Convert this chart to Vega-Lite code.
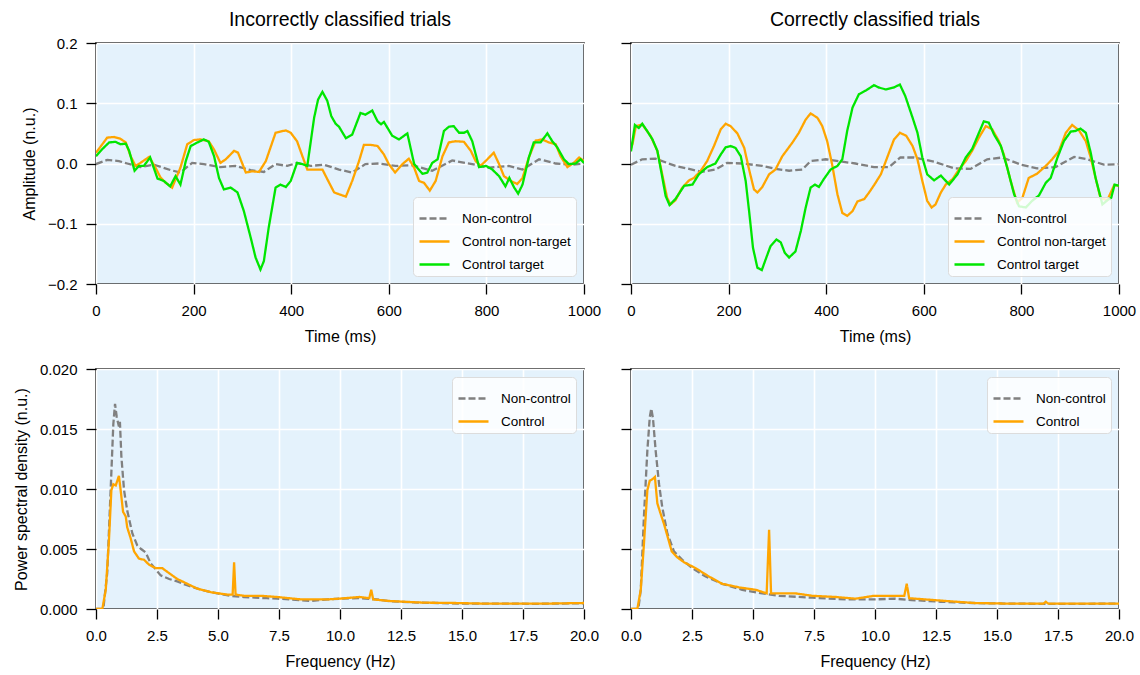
{
  "$schema": "https://vega.github.io/schema/vega-lite/v6.json",
  "padding": {"left": 12, "top": 8, "right": 10, "bottom": 5},
  "background": "white",
  "datasets": {
    "tl": [
      {"s":"Non-control","x":0,"y":-0.001},{"s":"Non-control","x":23,"y":0.006},{"s":"Non-control","x":47,"y":0.004},{"s":"Non-control","x":64,"y":0},{"s":"Non-control","x":91,"y":-0.006},{"s":"Non-control","x":119,"y":-0.002},{"s":"Non-control","x":153,"y":-0.011},{"s":"Non-control","x":173,"y":-0.015},{"s":"Non-control","x":197,"y":0.001},{"s":"Non-control","x":221,"y":-0.001},{"s":"Non-control","x":255,"y":-0.006},{"s":"Non-control","x":286,"y":-0.004},{"s":"Non-control","x":317,"y":-0.011},{"s":"Non-control","x":344,"y":-0.014},{"s":"Non-control","x":368,"y":-0.001},{"s":"Non-control","x":392,"y":-0.004},{"s":"Non-control","x":412,"y":0.001},{"s":"Non-control","x":440,"y":-0.004},{"s":"Non-control","x":467,"y":-0.002},{"s":"Non-control","x":498,"y":-0.010},{"s":"Non-control","x":525,"y":-0.015},{"s":"Non-control","x":552,"y":-0.001},{"s":"Non-control","x":580,"y":0},{"s":"Non-control","x":614,"y":-0.004},{"s":"Non-control","x":648,"y":-0.003},{"s":"Non-control","x":689,"y":-0.012},{"s":"Non-control","x":730,"y":0.005},{"s":"Non-control","x":771,"y":-0.001},{"s":"Non-control","x":805,"y":-0.007},{"s":"Non-control","x":846,"y":-0.004},{"s":"Non-control","x":874,"y":-0.010},{"s":"Non-control","x":908,"y":0.007},{"s":"Non-control","x":942,"y":0},{"s":"Non-control","x":976,"y":-0.002},{"s":"Non-control","x":1000,"y":0},
      {"s":"Control non-target","x":0,"y":0.018},{"s":"Control non-target","x":3,"y":0.021},{"s":"Control non-target","x":23,"y":0.043},{"s":"Control non-target","x":37,"y":0.044},{"s":"Control non-target","x":50,"y":0.041},{"s":"Control non-target","x":61,"y":0.035},{"s":"Control non-target","x":71,"y":0.012},{"s":"Control non-target","x":81,"y":-0.004},{"s":"Control non-target","x":91,"y":0.001},{"s":"Control non-target","x":109,"y":0.011},{"s":"Control non-target","x":122,"y":-0.007},{"s":"Control non-target","x":132,"y":-0.023},{"s":"Control non-target","x":143,"y":-0.032},{"s":"Control non-target","x":156,"y":-0.040},{"s":"Control non-target","x":173,"y":-0.007},{"s":"Control non-target","x":187,"y":0.032},{"s":"Control non-target","x":201,"y":0.039},{"s":"Control non-target","x":214,"y":0.040},{"s":"Control non-target","x":231,"y":0.037},{"s":"Control non-target","x":242,"y":0.023},{"s":"Control non-target","x":255,"y":0.001},{"s":"Control non-target","x":266,"y":0.007},{"s":"Control non-target","x":283,"y":0.021},{"s":"Control non-target","x":291,"y":0.018},{"s":"Control non-target","x":307,"y":-0.015},{"s":"Control non-target","x":320,"y":-0.013},{"s":"Control non-target","x":334,"y":-0.014},{"s":"Control non-target","x":348,"y":0.004},{"s":"Control non-target","x":368,"y":0.051},{"s":"Control non-target","x":389,"y":0.055},{"s":"Control non-target","x":399,"y":0.051},{"s":"Control non-target","x":412,"y":0.037},{"s":"Control non-target","x":423,"y":0.012},{"s":"Control non-target","x":433,"y":-0.010},{"s":"Control non-target","x":447,"y":-0.010},{"s":"Control non-target","x":464,"y":-0.010},{"s":"Control non-target","x":474,"y":-0.026},{"s":"Control non-target","x":488,"y":-0.048},{"s":"Control non-target","x":498,"y":-0.051},{"s":"Control non-target","x":512,"y":-0.055},{"s":"Control non-target","x":525,"y":-0.029},{"s":"Control non-target","x":539,"y":0.004},{"s":"Control non-target","x":549,"y":0.031},{"s":"Control non-target","x":563,"y":0.031},{"s":"Control non-target","x":577,"y":0.029},{"s":"Control non-target","x":590,"y":0.015},{"s":"Control non-target","x":600,"y":-0.001},{"s":"Control non-target","x":613,"y":-0.015},{"s":"Control non-target","x":628,"y":-0.001},{"s":"Control non-target","x":641,"y":0.008},{"s":"Control non-target","x":652,"y":-0.007},{"s":"Control non-target","x":662,"y":-0.029},{"s":"Control non-target","x":672,"y":-0.032},{"s":"Control non-target","x":684,"y":-0.045},{"s":"Control non-target","x":696,"y":-0.029},{"s":"Control non-target","x":710,"y":0.012},{"s":"Control non-target","x":723,"y":0.035},{"s":"Control non-target","x":737,"y":0.037},{"s":"Control non-target","x":754,"y":0.036},{"s":"Control non-target","x":768,"y":0.021},{"s":"Control non-target","x":778,"y":0.004},{"s":"Control non-target","x":788,"y":-0.004},{"s":"Control non-target","x":802,"y":0.007},{"s":"Control non-target","x":815,"y":0.018},{"s":"Control non-target","x":826,"y":-0.001},{"s":"Control non-target","x":836,"y":-0.021},{"s":"Control non-target","x":850,"y":-0.029},{"s":"Control non-target","x":863,"y":-0.034},{"s":"Control non-target","x":874,"y":-0.024},{"s":"Control non-target","x":887,"y":0.010},{"s":"Control non-target","x":901,"y":0.038},{"s":"Control non-target","x":914,"y":0.040},{"s":"Control non-target","x":928,"y":0.035},{"s":"Control non-target","x":942,"y":0.032},{"s":"Control non-target","x":952,"y":0.012},{"s":"Control non-target","x":966,"y":-0.006},{"s":"Control non-target","x":979,"y":0.001},{"s":"Control non-target","x":990,"y":0.010},{"s":"Control non-target","x":1000,"y":0.004},
      {"s":"Control target","x":0,"y":0.012},{"s":"Control target","x":3,"y":0.015},{"s":"Control target","x":13,"y":0.024},{"s":"Control target","x":27,"y":0.035},{"s":"Control target","x":40,"y":0.036},{"s":"Control target","x":50,"y":0.032},{"s":"Control target","x":61,"y":0.033},{"s":"Control target","x":68,"y":0.021},{"s":"Control target","x":79,"y":-0.012},{"s":"Control target","x":88,"y":-0.004},{"s":"Control target","x":98,"y":-0.004},{"s":"Control target","x":111,"y":0.010},{"s":"Control target","x":126,"y":-0.025},{"s":"Control target","x":139,"y":-0.029},{"s":"Control target","x":152,"y":-0.038},{"s":"Control target","x":163,"y":-0.021},{"s":"Control target","x":173,"y":-0.035},{"s":"Control target","x":184,"y":0.004},{"s":"Control target","x":194,"y":0.029},{"s":"Control target","x":208,"y":0.035},{"s":"Control target","x":221,"y":0.040},{"s":"Control target","x":231,"y":0.036},{"s":"Control target","x":242,"y":0.012},{"s":"Control target","x":252,"y":-0.024},{"s":"Control target","x":262,"y":-0.043},{"s":"Control target","x":276,"y":-0.040},{"s":"Control target","x":290,"y":-0.048},{"s":"Control target","x":303,"y":-0.079},{"s":"Control target","x":317,"y":-0.123},{"s":"Control target","x":327,"y":-0.156},{"s":"Control target","x":337,"y":-0.176},{"s":"Control target","x":344,"y":-0.162},{"s":"Control target","x":354,"y":-0.106},{"s":"Control target","x":368,"y":-0.040},{"s":"Control target","x":378,"y":-0.035},{"s":"Control target","x":389,"y":-0.039},{"s":"Control target","x":399,"y":-0.029},{"s":"Control target","x":412,"y":0.001},{"s":"Control target","x":423,"y":-0.001},{"s":"Control target","x":433,"y":-0.004},{"s":"Control target","x":447,"y":0.076},{"s":"Control target","x":455,"y":0.106},{"s":"Control target","x":464,"y":0.119},{"s":"Control target","x":474,"y":0.104},{"s":"Control target","x":482,"y":0.079},{"s":"Control target","x":491,"y":0.066},{"s":"Control target","x":498,"y":0.061},{"s":"Control target","x":512,"y":0.042},{"s":"Control target","x":525,"y":0.048},{"s":"Control target","x":542,"y":0.084},{"s":"Control target","x":552,"y":0.081},{"s":"Control target","x":566,"y":0.088},{"s":"Control target","x":577,"y":0.070},{"s":"Control target","x":584,"y":0.065},{"s":"Control target","x":590,"y":0.069},{"s":"Control target","x":607,"y":0.046},{"s":"Control target","x":621,"y":0.040},{"s":"Control target","x":638,"y":0.050},{"s":"Control target","x":652,"y":-0.001},{"s":"Control target","x":669,"y":-0.017},{"s":"Control target","x":679,"y":-0.015},{"s":"Control target","x":689,"y":0.001},{"s":"Control target","x":700,"y":0.007},{"s":"Control target","x":713,"y":0.054},{"s":"Control target","x":723,"y":0.061},{"s":"Control target","x":733,"y":0.062},{"s":"Control target","x":744,"y":0.051},{"s":"Control target","x":754,"y":0.051},{"s":"Control target","x":761,"y":0.054},{"s":"Control target","x":771,"y":0.037},{"s":"Control target","x":785,"y":-0.006},{"s":"Control target","x":799,"y":-0.004},{"s":"Control target","x":812,"y":-0.010},{"s":"Control target","x":826,"y":-0.021},{"s":"Control target","x":839,"y":-0.038},{"s":"Control target","x":847,"y":-0.024},{"s":"Control target","x":857,"y":-0.040},{"s":"Control target","x":865,"y":-0.050},{"s":"Control target","x":874,"y":-0.035},{"s":"Control target","x":887,"y":0.010},{"s":"Control target","x":897,"y":0.035},{"s":"Control target","x":911,"y":0.035},{"s":"Control target","x":925,"y":0.050},{"s":"Control target","x":935,"y":0.037},{"s":"Control target","x":945,"y":0.027},{"s":"Control target","x":959,"y":0.007},{"s":"Control target","x":969,"y":-0.001},{"s":"Control target","x":983,"y":0.000},{"s":"Control target","x":993,"y":0.007},{"s":"Control target","x":1000,"y":0.001}
    ],
    "tr": [
      {"s":"Non-control","x":0,"y":-0.002},{"s":"Non-control","x":23,"y":0.007},{"s":"Non-control","x":50,"y":0.008},{"s":"Non-control","x":91,"y":-0.004},{"s":"Non-control","x":119,"y":-0.009},{"s":"Non-control","x":146,"y":-0.014},{"s":"Non-control","x":173,"y":-0.010},{"s":"Non-control","x":197,"y":0.001},{"s":"Non-control","x":228,"y":0},{"s":"Non-control","x":269,"y":-0.004},{"s":"Non-control","x":296,"y":-0.009},{"s":"Non-control","x":324,"y":-0.012},{"s":"Non-control","x":351,"y":-0.010},{"s":"Non-control","x":368,"y":0.004},{"s":"Non-control","x":399,"y":0.007},{"s":"Non-control","x":433,"y":0.003},{"s":"Non-control","x":460,"y":0},{"s":"Non-control","x":498,"y":-0.006},{"s":"Non-control","x":529,"y":-0.006},{"s":"Non-control","x":552,"y":0.010},{"s":"Non-control","x":580,"y":0.010},{"s":"Non-control","x":621,"y":0.003},{"s":"Non-control","x":662,"y":-0.008},{"s":"Non-control","x":696,"y":-0.009},{"s":"Non-control","x":730,"y":0.007},{"s":"Non-control","x":761,"y":0.010},{"s":"Non-control","x":799,"y":-0.002},{"s":"Non-control","x":832,"y":-0.008},{"s":"Non-control","x":870,"y":-0.006},{"s":"Non-control","x":908,"y":0.011},{"s":"Non-control","x":935,"y":0.007},{"s":"Non-control","x":969,"y":-0.002},{"s":"Non-control","x":1000,"y":-0.001},
      {"s":"Control non-target","x":0,"y":0.025},{"s":"Control non-target","x":3,"y":0.032},{"s":"Control non-target","x":10,"y":0.062},{"s":"Control non-target","x":23,"y":0.065},{"s":"Control non-target","x":40,"y":0.046},{"s":"Control non-target","x":54,"y":0.021},{"s":"Control non-target","x":64,"y":-0.018},{"s":"Control non-target","x":74,"y":-0.057},{"s":"Control non-target","x":81,"y":-0.068},{"s":"Control non-target","x":91,"y":-0.061},{"s":"Control non-target","x":105,"y":-0.040},{"s":"Control non-target","x":119,"y":-0.028},{"s":"Control non-target","x":129,"y":-0.024},{"s":"Control non-target","x":143,"y":-0.012},{"s":"Control non-target","x":156,"y":0.004},{"s":"Control non-target","x":170,"y":0.029},{"s":"Control non-target","x":184,"y":0.057},{"s":"Control non-target","x":194,"y":0.066},{"s":"Control non-target","x":204,"y":0.062},{"s":"Control non-target","x":218,"y":0.050},{"s":"Control non-target","x":232,"y":0.026},{"s":"Control non-target","x":242,"y":-0.010},{"s":"Control non-target","x":252,"y":-0.043},{"s":"Control non-target","x":259,"y":-0.048},{"s":"Control non-target","x":269,"y":-0.039},{"s":"Control non-target","x":283,"y":-0.018},{"s":"Control non-target","x":296,"y":-0.010},{"s":"Control non-target","x":310,"y":0.012},{"s":"Control non-target","x":331,"y":0.035},{"s":"Control non-target","x":344,"y":0.051},{"s":"Control non-target","x":358,"y":0.073},{"s":"Control non-target","x":368,"y":0.083},{"s":"Control non-target","x":382,"y":0.076},{"s":"Control non-target","x":392,"y":0.062},{"s":"Control non-target","x":402,"y":0.037},{"s":"Control non-target","x":412,"y":-0.001},{"s":"Control non-target","x":423,"y":-0.051},{"s":"Control non-target","x":433,"y":-0.082},{"s":"Control non-target","x":443,"y":-0.087},{"s":"Control non-target","x":454,"y":-0.079},{"s":"Control non-target","x":464,"y":-0.063},{"s":"Control non-target","x":478,"y":-0.059},{"s":"Control non-target","x":488,"y":-0.048},{"s":"Control non-target","x":498,"y":-0.036},{"s":"Control non-target","x":512,"y":-0.018},{"s":"Control non-target","x":525,"y":0.010},{"s":"Control non-target","x":539,"y":0.040},{"s":"Control non-target","x":551,"y":0.051},{"s":"Control non-target","x":564,"y":0.046},{"s":"Control non-target","x":577,"y":0.029},{"s":"Control non-target","x":587,"y":0.007},{"s":"Control non-target","x":597,"y":-0.029},{"s":"Control non-target","x":607,"y":-0.062},{"s":"Control non-target","x":616,"y":-0.073},{"s":"Control non-target","x":624,"y":-0.068},{"s":"Control non-target","x":635,"y":-0.048},{"s":"Control non-target","x":645,"y":-0.035},{"s":"Control non-target","x":659,"y":-0.026},{"s":"Control non-target","x":672,"y":-0.010},{"s":"Control non-target","x":686,"y":0.004},{"s":"Control non-target","x":699,"y":0.021},{"s":"Control non-target","x":713,"y":0.043},{"s":"Control non-target","x":727,"y":0.062},{"s":"Control non-target","x":740,"y":0.057},{"s":"Control non-target","x":754,"y":0.037},{"s":"Control non-target","x":764,"y":0.015},{"s":"Control non-target","x":778,"y":-0.029},{"s":"Control non-target","x":791,"y":-0.065},{"s":"Control non-target","x":802,"y":-0.057},{"s":"Control non-target","x":815,"y":-0.024},{"s":"Control non-target","x":832,"y":-0.017},{"s":"Control non-target","x":850,"y":-0.004},{"s":"Control non-target","x":863,"y":0.007},{"s":"Control non-target","x":877,"y":0.021},{"s":"Control non-target","x":891,"y":0.051},{"s":"Control non-target","x":904,"y":0.064},{"s":"Control non-target","x":918,"y":0.055},{"s":"Control non-target","x":932,"y":0.037},{"s":"Control non-target","x":942,"y":0.010},{"s":"Control non-target","x":952,"y":-0.024},{"s":"Control non-target","x":962,"y":-0.057},{"s":"Control non-target","x":976,"y":-0.061},{"s":"Control non-target","x":990,"y":-0.036},{"s":"Control non-target","x":1000,"y":-0.037},
      {"s":"Control target","x":0,"y":0.020},{"s":"Control target","x":1,"y":0.026},{"s":"Control target","x":8,"y":0.064},{"s":"Control target","x":16,"y":0.059},{"s":"Control target","x":23,"y":0.066},{"s":"Control target","x":33,"y":0.054},{"s":"Control target","x":44,"y":0.040},{"s":"Control target","x":54,"y":0.021},{"s":"Control target","x":63,"y":-0.018},{"s":"Control target","x":71,"y":-0.054},{"s":"Control target","x":79,"y":-0.069},{"s":"Control target","x":91,"y":-0.059},{"s":"Control target","x":109,"y":-0.037},{"s":"Control target","x":126,"y":-0.035},{"s":"Control target","x":139,"y":-0.018},{"s":"Control target","x":156,"y":-0.006},{"s":"Control target","x":173,"y":0.000},{"s":"Control target","x":184,"y":0.015},{"s":"Control target","x":194,"y":0.027},{"s":"Control target","x":204,"y":0.029},{"s":"Control target","x":214,"y":0.026},{"s":"Control target","x":225,"y":0.012},{"s":"Control target","x":235,"y":-0.029},{"s":"Control target","x":242,"y":-0.079},{"s":"Control target","x":250,"y":-0.140},{"s":"Control target","x":259,"y":-0.173},{"s":"Control target","x":268,"y":-0.177},{"s":"Control target","x":276,"y":-0.159},{"s":"Control target","x":286,"y":-0.137},{"s":"Control target","x":298,"y":-0.126},{"s":"Control target","x":307,"y":-0.131},{"s":"Control target","x":315,"y":-0.148},{"s":"Control target","x":324,"y":-0.156},{"s":"Control target","x":337,"y":-0.146},{"s":"Control target","x":348,"y":-0.112},{"s":"Control target","x":358,"y":-0.073},{"s":"Control target","x":368,"y":-0.040},{"s":"Control target","x":377,"y":-0.035},{"s":"Control target","x":385,"y":-0.039},{"s":"Control target","x":395,"y":-0.026},{"s":"Control target","x":409,"y":-0.010},{"s":"Control target","x":423,"y":-0.004},{"s":"Control target","x":433,"y":0.007},{"s":"Control target","x":443,"y":0.054},{"s":"Control target","x":454,"y":0.093},{"s":"Control target","x":467,"y":0.115},{"s":"Control target","x":481,"y":0.121},{"s":"Control target","x":498,"y":0.130},{"s":"Control target","x":508,"y":0.126},{"s":"Control target","x":522,"y":0.123},{"s":"Control target","x":538,"y":0.126},{"s":"Control target","x":551,"y":0.131},{"s":"Control target","x":562,"y":0.112},{"s":"Control target","x":577,"y":0.076},{"s":"Control target","x":587,"y":0.051},{"s":"Control target","x":597,"y":0.010},{"s":"Control target","x":607,"y":-0.018},{"s":"Control target","x":621,"y":-0.028},{"s":"Control target","x":635,"y":-0.020},{"s":"Control target","x":652,"y":-0.035},{"s":"Control target","x":669,"y":-0.018},{"s":"Control target","x":686,"y":0.010},{"s":"Control target","x":699,"y":0.024},{"s":"Control target","x":713,"y":0.051},{"s":"Control target","x":723,"y":0.070},{"s":"Control target","x":733,"y":0.068},{"s":"Control target","x":744,"y":0.048},{"s":"Control target","x":758,"y":0.029},{"s":"Control target","x":771,"y":-0.007},{"s":"Control target","x":785,"y":-0.051},{"s":"Control target","x":795,"y":-0.071},{"s":"Control target","x":809,"y":-0.073},{"s":"Control target","x":822,"y":-0.062},{"s":"Control target","x":836,"y":-0.053},{"s":"Control target","x":850,"y":-0.032},{"s":"Control target","x":860,"y":-0.024},{"s":"Control target","x":874,"y":0.010},{"s":"Control target","x":887,"y":0.037},{"s":"Control target","x":901,"y":0.053},{"s":"Control target","x":911,"y":0.054},{"s":"Control target","x":921,"y":0.058},{"s":"Control target","x":932,"y":0.051},{"s":"Control target","x":942,"y":0.018},{"s":"Control target","x":952,"y":-0.024},{"s":"Control target","x":966,"y":-0.068},{"s":"Control target","x":976,"y":-0.061},{"s":"Control target","x":984,"y":-0.057},{"s":"Control target","x":991,"y":-0.035},{"s":"Control target","x":1000,"y":-0.037}
    ],
    "bl": [
      {"s":"Non-control","x":0,"y":0},{"s":"Non-control","x":0.3,"y":0},{"s":"Non-control","x":0.46,"y":0.003},{"s":"Non-control","x":0.6,"y":0.0099},{"s":"Non-control","x":0.71,"y":0.0154},{"s":"Non-control","x":0.78,"y":0.0171},{"s":"Non-control","x":0.85,"y":0.016},{"s":"Non-control","x":0.94,"y":0.0152},{"s":"Non-control","x":0.98,"y":0.0156},{"s":"Non-control","x":1.04,"y":0.0127},{"s":"Non-control","x":1.15,"y":0.0099},{"s":"Non-control","x":1.28,"y":0.0082},{"s":"Non-control","x":1.49,"y":0.0063},{"s":"Non-control","x":1.69,"y":0.0053},{"s":"Non-control","x":1.85,"y":0.005},{"s":"Non-control","x":2.04,"y":0.0047},{"s":"Non-control","x":2.24,"y":0.0038},{"s":"Non-control","x":2.45,"y":0.0033},{"s":"Non-control","x":2.65,"y":0.0028},{"s":"Non-control","x":3.0,"y":0.0025},{"s":"Non-control","x":3.33,"y":0.0023},{"s":"Non-control","x":3.7,"y":0.002},{"s":"Non-control","x":4.0,"y":0.0018},{"s":"Non-control","x":4.5,"y":0.0015},{"s":"Non-control","x":4.97,"y":0.0013},{"s":"Non-control","x":5.5,"y":0.0011},{"s":"Non-control","x":6.06,"y":0.001},{"s":"Non-control","x":6.5,"y":0.00095},{"s":"Non-control","x":7.0,"y":0.0009},{"s":"Non-control","x":7.43,"y":0.00086},{"s":"Non-control","x":8.0,"y":0.0008},{"s":"Non-control","x":8.8,"y":0.00067},{"s":"Non-control","x":9.5,"y":0.0008},{"s":"Non-control","x":10,"y":0.00086},{"s":"Non-control","x":10.8,"y":0.0009},{"s":"Non-control","x":11.5,"y":0.0008},{"s":"Non-control","x":12,"y":0.00065},{"s":"Non-control","x":13,"y":0.00055},{"s":"Non-control","x":14,"y":0.0005},{"s":"Non-control","x":15,"y":0.00045},{"s":"Non-control","x":16,"y":0.00044},{"s":"Non-control","x":17,"y":0.00045},{"s":"Non-control","x":18,"y":0.00043},{"s":"Non-control","x":19,"y":0.00045},{"s":"Non-control","x":20,"y":0.00048},
      {"s":"Control","x":0,"y":0},{"s":"Control","x":0.26,"y":0},{"s":"Control","x":0.4,"y":0.0016},{"s":"Control","x":0.53,"y":0.0057},{"s":"Control","x":0.63,"y":0.0099},{"s":"Control","x":0.71,"y":0.0104},{"s":"Control","x":0.81,"y":0.0103},{"s":"Control","x":0.94,"y":0.0111},{"s":"Control","x":1.01,"y":0.0099},{"s":"Control","x":1.11,"y":0.0081},{"s":"Control","x":1.22,"y":0.0077},{"s":"Control","x":1.28,"y":0.0068},{"s":"Control","x":1.42,"y":0.0059},{"s":"Control","x":1.56,"y":0.0048},{"s":"Control","x":1.76,"y":0.0042},{"s":"Control","x":1.97,"y":0.0041},{"s":"Control","x":2.17,"y":0.0037},{"s":"Control","x":2.45,"y":0.0034},{"s":"Control","x":2.72,"y":0.0034},{"s":"Control","x":2.92,"y":0.0031},{"s":"Control","x":3.33,"y":0.0025},{"s":"Control","x":3.74,"y":0.0021},{"s":"Control","x":4.15,"y":0.0017},{"s":"Control","x":4.7,"y":0.0014},{"s":"Control","x":5.38,"y":0.0012},{"s":"Control","x":5.6,"y":0.0012},{"s":"Control","x":5.66,"y":0.0039},{"s":"Control","x":5.72,"y":0.0012},{"s":"Control","x":6.06,"y":0.0011},{"s":"Control","x":6.75,"y":0.0011},{"s":"Control","x":7.43,"y":0.001},{"s":"Control","x":8.4,"y":0.0008},{"s":"Control","x":9.48,"y":0.0008},{"s":"Control","x":9.96,"y":0.00086},{"s":"Control","x":10.8,"y":0.001},{"s":"Control","x":11.2,"y":0.0009},{"s":"Control","x":11.28,"y":0.0016},{"s":"Control","x":11.36,"y":0.0008},{"s":"Control","x":12,"y":0.00067},{"s":"Control","x":13.4,"y":0.00053},{"s":"Control","x":14.7,"y":0.0005},{"s":"Control","x":16.1,"y":0.00044},{"s":"Control","x":17.5,"y":0.00045},{"s":"Control","x":18.5,"y":0.00045},{"s":"Control","x":20,"y":0.0005}
    ],
    "br": [
      {"s":"Non-control","x":0,"y":0},{"s":"Non-control","x":0.3,"y":0},{"s":"Non-control","x":0.4,"y":0.0016},{"s":"Non-control","x":0.53,"y":0.0077},{"s":"Non-control","x":0.67,"y":0.0132},{"s":"Non-control","x":0.77,"y":0.016},{"s":"Non-control","x":0.83,"y":0.0167},{"s":"Non-control","x":0.9,"y":0.0159},{"s":"Non-control","x":1.01,"y":0.0132},{"s":"Non-control","x":1.15,"y":0.0104},{"s":"Non-control","x":1.28,"y":0.0085},{"s":"Non-control","x":1.49,"y":0.0063},{"s":"Non-control","x":1.76,"y":0.0048},{"s":"Non-control","x":2.1,"y":0.0041},{"s":"Non-control","x":2.51,"y":0.0034},{"s":"Non-control","x":3.06,"y":0.0027},{"s":"Non-control","x":3.74,"y":0.0021},{"s":"Non-control","x":4.56,"y":0.0016},{"s":"Non-control","x":5.38,"y":0.0013},{"s":"Non-control","x":6.06,"y":0.0011},{"s":"Non-control","x":7.43,"y":0.00094},{"s":"Non-control","x":8.8,"y":0.0008},{"s":"Non-control","x":9.96,"y":0.0008},{"s":"Non-control","x":10.8,"y":0.00086},{"s":"Non-control","x":11.5,"y":0.00075},{"s":"Non-control","x":12.7,"y":0.0006},{"s":"Non-control","x":14,"y":0.0005},{"s":"Non-control","x":15.4,"y":0.00045},{"s":"Non-control","x":17,"y":0.00043},{"s":"Non-control","x":18.5,"y":0.00043},{"s":"Non-control","x":20,"y":0.00045},
      {"s":"Control","x":0,"y":0},{"s":"Control","x":0.26,"y":0},{"s":"Control","x":0.4,"y":0.0016},{"s":"Control","x":0.53,"y":0.0054},{"s":"Control","x":0.67,"y":0.0099},{"s":"Control","x":0.77,"y":0.0107},{"s":"Control","x":0.87,"y":0.0108},{"s":"Control","x":0.98,"y":0.011},{"s":"Control","x":1.08,"y":0.0088},{"s":"Control","x":1.22,"y":0.0079},{"s":"Control","x":1.35,"y":0.0071},{"s":"Control","x":1.49,"y":0.0061},{"s":"Control","x":1.67,"y":0.0048},{"s":"Control","x":1.9,"y":0.0043},{"s":"Control","x":2.17,"y":0.0039},{"s":"Control","x":2.65,"y":0.0034},{"s":"Control","x":3.2,"y":0.0027},{"s":"Control","x":3.74,"y":0.0021},{"s":"Control","x":4.43,"y":0.0018},{"s":"Control","x":5.11,"y":0.0016},{"s":"Control","x":5.56,"y":0.0013},{"s":"Control","x":5.66,"y":0.0066},{"s":"Control","x":5.74,"y":0.0013},{"s":"Control","x":6.06,"y":0.0013},{"s":"Control","x":6.75,"y":0.0013},{"s":"Control","x":7.43,"y":0.0011},{"s":"Control","x":8.4,"y":0.001},{"s":"Control","x":9.2,"y":0.00086},{"s":"Control","x":9.96,"y":0.0011},{"s":"Control","x":10.5,"y":0.0011},{"s":"Control","x":11.2,"y":0.0011},{"s":"Control","x":11.3,"y":0.0021},{"s":"Control","x":11.4,"y":0.0009},{"s":"Control","x":12.7,"y":0.0007},{"s":"Control","x":14.06,"y":0.0005},{"s":"Control","x":15.4,"y":0.00045},{"s":"Control","x":16.9,"y":0.00045},{"s":"Control","x":17.0,"y":0.0006},{"s":"Control","x":17.1,"y":0.00045},{"s":"Control","x":18.5,"y":0.00044},{"s":"Control","x":20,"y":0.00045}
    ]
  },
  "columns": 2,
  "bounds": "flush",
  "spacing": {"row": 85, "column": 47},
  "concat": [
    {
      "title": {"text": "Incorrectly classified trials", "offset": 6},
      "width": 488, "height": 241,
      "data": {"name": "tl"},
      "mark": {"type": "line", "strokeWidth": 2.3, "clip": true},
      "encoding": {
        "x": {"field": "x", "type": "quantitative", "scale": {"domain": [0, 1000], "nice": false},
              "axis": {"title": "Time (ms)", "values": [0, 200, 400, 600, 800, 1000], "format": "d"}},
        "y": {"field": "y", "type": "quantitative", "scale": {"domain": [-0.2, 0.2], "nice": false},
              "axis": {"title": "Amplitude (n.u.)", "values": [-0.2, -0.1, 0, 0.1, 0.2], "format": ".1f"}},
        "color": {"field": "s", "type": "nominal", "scale": {"domain": ["Non-control", "Control non-target", "Control target"], "range": ["#808080", "#ffa500", "#00e600"]},
                  "legend": {"orient": "bottom-right"}},
        "strokeDash": {"field": "s", "type": "nominal", "scale": {"domain": ["Non-control", "Control non-target", "Control target"], "range": [[7, 3], [1, 0], [1, 0]]},
                  "legend": {"orient": "bottom-right"}}
      }
    },
    {
      "title": {"text": "Correctly classified trials", "offset": 12},
      "width": 488, "height": 241,
      "data": {"name": "tr"},
      "mark": {"type": "line", "strokeWidth": 2.3, "clip": true},
      "encoding": {
        "x": {"field": "x", "type": "quantitative", "scale": {"domain": [0, 1000], "nice": false},
              "axis": {"title": "Time (ms)", "values": [0, 200, 400, 600, 800, 1000], "format": "d"}},
        "y": {"field": "y", "type": "quantitative", "scale": {"domain": [-0.2, 0.2], "nice": false},
              "axis": {"title": null, "labels": false, "values": [-0.2, -0.1, 0, 0.1, 0.2]}},
        "color": {"field": "s", "type": "nominal", "scale": {"domain": ["Non-control", "Control non-target", "Control target"], "range": ["#808080", "#ffa500", "#00e600"]},
                  "legend": {"orient": "bottom-right"}},
        "strokeDash": {"field": "s", "type": "nominal", "scale": {"domain": ["Non-control", "Control non-target", "Control target"], "range": [[7, 3], [1, 0], [1, 0]]},
                  "legend": {"orient": "bottom-right"}}
      }
    },
    {
      "width": 488, "height": 240,
      "data": {"name": "bl"},
      "mark": {"type": "line", "strokeWidth": 2.3, "clip": true},
      "encoding": {
        "x": {"field": "x", "type": "quantitative", "scale": {"domain": [0, 20], "nice": false},
              "axis": {"title": "Frequency (Hz)", "values": [0, 2.5, 5, 7.5, 10, 12.5, 15, 17.5, 20], "format": ".1f"}},
        "y": {"field": "y", "type": "quantitative", "scale": {"domain": [0, 0.02], "nice": false},
              "axis": {"title": "Power spectral density (n.u.)", "values": [0, 0.005, 0.01, 0.015, 0.02], "format": ".3f"}},
        "color": {"field": "s", "type": "nominal", "scale": {"domain": ["Non-control", "Control"], "range": ["#808080", "#ffa500"]},
                  "legend": {"orient": "top-right"}},
        "strokeDash": {"field": "s", "type": "nominal", "scale": {"domain": ["Non-control", "Control"], "range": [[7, 3], [1, 0]]},
                  "legend": {"orient": "top-right"}}
      }
    },
    {
      "width": 488, "height": 240,
      "data": {"name": "br"},
      "mark": {"type": "line", "strokeWidth": 2.3, "clip": true},
      "encoding": {
        "x": {"field": "x", "type": "quantitative", "scale": {"domain": [0, 20], "nice": false},
              "axis": {"title": "Frequency (Hz)", "values": [0, 2.5, 5, 7.5, 10, 12.5, 15, 17.5, 20], "format": ".1f"}},
        "y": {"field": "y", "type": "quantitative", "scale": {"domain": [0, 0.02], "nice": false},
              "axis": {"title": null, "labels": false, "values": [0, 0.005, 0.01, 0.015, 0.02]}},
        "color": {"field": "s", "type": "nominal", "scale": {"domain": ["Non-control", "Control"], "range": ["#808080", "#ffa500"]},
                  "legend": {"orient": "top-right"}},
        "strokeDash": {"field": "s", "type": "nominal", "scale": {"domain": ["Non-control", "Control"], "range": [[7, 3], [1, 0]]},
                  "legend": {"orient": "top-right"}}
      }
    }
  ],
  "resolve": {
    "scale": {"color": "independent", "strokeDash": "independent", "x": "independent", "y": "independent"},
    "legend": {"color": "independent", "strokeDash": "independent"},
    "axis": {"x": "independent", "y": "independent"}
  },
  "config": {
    "font": "Liberation Sans",
    "view": {"fill": "#e4f2fc", "stroke": "#000000", "strokeWidth": 1.6},
    "axis": {
      "domain": false, "grid": true, "gridColor": "#ffffff", "gridWidth": 1.6,
      "ticks": true, "tickColor": "#000000", "tickSize": 10, "tickWidth": 1.3,
      "labelFontSize": 15, "labelColor": "#000000", "labelPadding": 9, "labelFlush": false, "labelOverlap": false,
      "titleFontSize": 16, "titleFontWeight": "normal", "titleColor": "#000000", "titlePadding": 10
    },
    "legend": {
      "title": null, "offset": 8, "fillColor": "rgba(255,255,255,0.82)", "strokeColor": "#dcdcdc",
      "cornerRadius": 4, "padding": 5, "labelFontSize": 13.5, "labelColor": "#000000",
      "symbolType": "stroke", "symbolSize": 900, "symbolStrokeWidth": 2.3, "rowPadding": -12, "labelOffset": 11
    },
    "title": {"fontSize": 19.5, "fontWeight": "normal", "color": "#000000", "anchor": "middle"}
  }
}
